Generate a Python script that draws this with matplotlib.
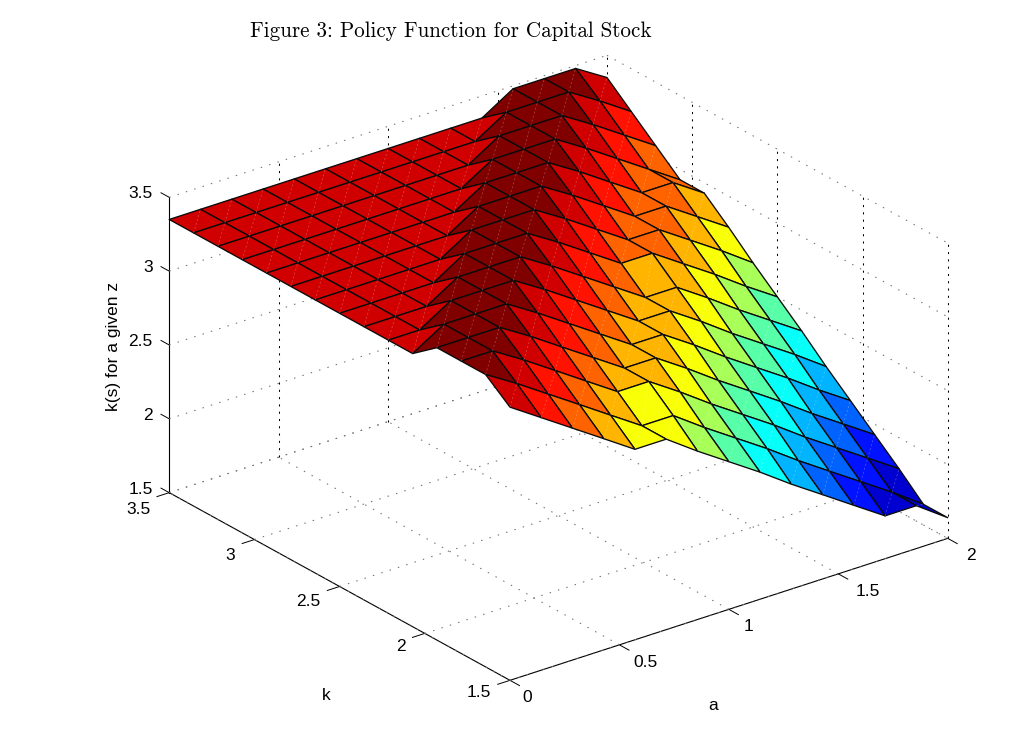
import matplotlib
matplotlib.use("Agg")
import matplotlib.pyplot as plt
from matplotlib.colors import LinearSegmentedColormap, Normalize
from mpl_toolkits.mplot3d import proj3d
from mpl_toolkits.mplot3d.art3d import Line3DCollection
import numpy as np

plt.rcParams['font.family'] = ['Liberation Sans', 'DejaVu Sans']

# grid of the policy function
a = [0, 0.143, 0.286, 0.429, 0.571, 0.714, 0.857, 1.0, 1.143, 1.286, 1.429, 1.571, 1.714, 1.857, 2.0]
k = [1.5, 1.643, 1.786, 1.929, 2.071, 2.214, 2.357, 2.5, 2.643, 2.786, 2.929, 3.071, 3.214, 3.357, 3.5]

# k(s), one row per k value (low k first), one column per a value
ks = [
    [3.35, 3.21, 3.07, 2.93, 2.79, 2.79, 2.64, 2.50, 2.36, 2.21, 2.07, 1.93, 1.79, 1.79, 1.64],
    [3.48, 3.35, 3.21, 3.07, 2.93, 2.79, 2.79, 2.64, 2.50, 2.36, 2.21, 2.07, 1.93, 1.79, 1.64],
    [3.48, 3.48, 3.35, 3.21, 3.07, 2.93, 2.93, 2.79, 2.64, 2.50, 2.36, 2.21, 2.07, 1.93, 1.79],
    [3.48, 3.48, 3.48, 3.35, 3.21, 3.07, 2.93, 2.93, 2.79, 2.64, 2.50, 2.36, 2.21, 2.07, 1.93],
    [3.35, 3.48, 3.48, 3.48, 3.35, 3.21, 3.07, 2.93, 2.93, 2.79, 2.64, 2.50, 2.36, 2.21, 2.07],
    [3.35, 3.35, 3.48, 3.48, 3.48, 3.35, 3.21, 3.07, 2.93, 2.93, 2.79, 2.64, 2.50, 2.36, 2.21],
    [3.35, 3.35, 3.35, 3.48, 3.48, 3.48, 3.35, 3.21, 3.07, 2.93, 2.93, 2.79, 2.64, 2.50, 2.36],
    [3.35, 3.35, 3.35, 3.35, 3.48, 3.48, 3.48, 3.35, 3.21, 3.07, 3.07, 2.93, 2.79, 2.64, 2.50],
    [3.35, 3.35, 3.35, 3.35, 3.35, 3.48, 3.48, 3.48, 3.35, 3.21, 3.07, 3.07, 2.93, 2.79, 2.64],
    [3.35, 3.35, 3.35, 3.35, 3.35, 3.35, 3.48, 3.48, 3.48, 3.35, 3.21, 3.07, 3.07, 2.93, 2.79],
    [3.35, 3.35, 3.35, 3.35, 3.35, 3.35, 3.35, 3.48, 3.48, 3.48, 3.35, 3.21, 3.07, 3.07, 2.93],
    [3.35, 3.35, 3.35, 3.35, 3.35, 3.35, 3.35, 3.35, 3.48, 3.48, 3.48, 3.35, 3.21, 3.07, 2.93],
    [3.35, 3.35, 3.35, 3.35, 3.35, 3.35, 3.35, 3.35, 3.35, 3.48, 3.48, 3.48, 3.35, 3.21, 3.07],
    [3.35, 3.35, 3.35, 3.35, 3.35, 3.35, 3.35, 3.35, 3.35, 3.35, 3.48, 3.48, 3.48, 3.35, 3.21],
    [3.35, 3.35, 3.35, 3.35, 3.35, 3.35, 3.35, 3.35, 3.35, 3.35, 3.35, 3.48, 3.48, 3.48, 3.35],
]

a_ticks = [0, 0.5, 1, 1.5, 2]
a_labels = ['0', '0.5', '1', '1.5', '2']
k_ticks = [1.5, 2, 2.5, 3, 3.5]
k_labels = ['1.5', '2', '2.5', '3', '3.5']
z_ticks = [1.5, 2, 2.5, 3, 3.5]
z_labels = ['1.5', '2', '2.5', '3', '3.5']

# matlab's jet, matplotlib's has other breakpoints
jet = LinearSegmentedColormap.from_list('mjet', [
    (0, (0, 0, 0.5)), (0.125, (0, 0, 1)), (0.375, (0, 1, 1)),
    (0.625, (1, 1, 0)), (0.875, (1, 0, 0)), (1, (0.5, 0, 0))], N=64)

A, K = np.meshgrid(a, k)
Z = np.array(ks)
colors = jet(Normalize(1.64, 3.5)(Z))

fig = plt.figure(figsize=(10.12, 7.33), dpi=100)
ax = fig.add_axes([134.3 / 1012, -59 / 733, 826 / 1012, 826 / 733],
                  projection='3d', computed_zorder=False)
ax.set_proj_type('ortho')
ax.view_init(elev=25, azim=-127.5)
ax.set_box_aspect((552, 560, 326))
ax.set_xlim(0, 2, view_margin=0)
ax.set_ylim(1.5, 3.5, view_margin=0)
ax.set_zlim(1.5, 3.5, view_margin=0)
ax.grid(False)

# box grid by hand: the verticals are black in the original, the rest grey
flat_grid = []
for t in a_ticks:
    flat_grid.append([(t, 1.5, 1.5), (t, 3.5, 1.5)])
for t in k_ticks:
    flat_grid.append([(0, t, 1.5), (2, t, 1.5)])
for t in z_ticks:
    flat_grid.append([(0, 3.5, t), (2, 3.5, t)])
    flat_grid.append([(2, 3.5, t), (2, 1.5, t)])
ax.add_collection3d(Line3DCollection(flat_grid, colors='#707070', linewidths=0.75,
                                     linestyles=(0, (1.4, 7)), zorder=1))
upright_grid = []
for t in a_ticks[1:]:
    upright_grid.append([(t, 3.5, 1.5), (t, 3.5, 3.5)])
for t in k_ticks[:-1]:
    upright_grid.append([(2, t, 1.5), (2, t, 3.5)])
upright = Line3DCollection(upright_grid, colors='k', linewidths=0.75,
                           linestyles=(0, (2, 5)), zorder=1)
upright.set_snap(True)
ax.add_collection3d(upright)

ax.plot_surface(A, K, Z, rstride=1, cstride=1, facecolors=colors, shade=False,
                edgecolor='#0a0a0a', linewidth=0.95, zorder=2)

# the light seams across each cell, left over from the export
seams = []
for r in range(Z.shape[0] - 1):
    for c in range(Z.shape[1] - 1):
        seams.append([(a[c], k[r], Z[r, c]), (a[c + 1], k[r + 1], Z[r + 1, c + 1])])
ax.add_collection3d(Line3DCollection(seams, colors='#ffffff', linewidths=0.5,
                                     linestyles=(0, (3, 3)), alpha=0.3, zorder=3))

for axis in (ax.xaxis, ax.yaxis, ax.zaxis):
    axis.set_pane_color((1, 1, 1, 0))
    axis.pane.set_edgecolor('none')
    axis.line.set_color('k')
    axis.line.set_linewidth(0.8)
    axis._axinfo['tick']['inward_factor'] = 0
    axis._axinfo['tick']['outward_factor'] = -0.35
    axis._axinfo['tick']['linewidth'] = {True: 0.7, False: 0.7}

# z ticks point back along k in the original
ax.zaxis._get_tickdir = lambda pos: 1
ax.zaxis._axinfo['tick']['outward_factor'] = 0.3

ax.set_xticks(a_ticks, [''] * len(a_ticks))
ax.set_yticks(k_ticks, [''] * len(k_ticks))
ax.set_zticks(z_ticks, [''] * len(z_ticks))


def tick_text(x, y, z, text, dx, dy, ha):
    xs, ys, _ = proj3d.proj_transform(x, y, z, ax.get_proj())
    ax.annotate(text, (xs, ys), xytext=(dx, dy), textcoords='offset pixels',
                ha=ha, va='center', fontsize=12.5, annotation_clip=False)


# matlab's labels do not keep one offset along the two floor axes
a_dx = [12, 14, 15, 17.5, 18]
k_dy = [-12.5, -13.5, -15, -16, -17]
for t, lab, dx in zip(a_ticks, a_labels, a_dx):
    tick_text(t, 1.5, 1.5, lab, dx, -17.5, 'left')
for t, lab, dy in zip(k_ticks, k_labels, k_dy):
    tick_text(0, t, 1.5, lab, -19, dy, 'right')
for t, lab in zip(z_ticks, z_labels):
    tick_text(0, 3.5, t, lab, -16.5, 3.5, 'right')

fig.text(713 / 1012, 1 - 705.5 / 733, 'a', fontsize=12.5, ha='center', va='center')
fig.text(326.5 / 1012, 1 - 695 / 733, 'k', fontsize=12.5, ha='center', va='center')
fig.text(113.5 / 1012, 1 - 346 / 733, 'k(s) for a given z', fontsize=12.5,
         rotation=90, ha='center', va='center')

fig.text(451 / 1012, 1 - 31.5 / 733, 'Figure 3: Policy Function for Capital Stock',
         family='cmr10', fontsize=15.2, ha='center', va='center')

fig.savefig('out.png', dpi=100)
